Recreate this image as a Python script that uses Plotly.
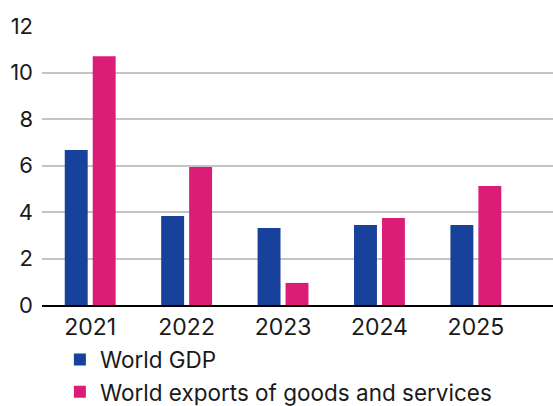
import plotly.graph_objects as go

years = ["2021", "2022", "2023", "2024", "2025"]
gdp = [6.67, 3.83, 3.31, 3.44, 3.44]
exports = [10.7, 5.94, 0.95, 3.74, 5.12]
y_ticks = [0, 2, 4, 6, 8, 10, 12]

FONT = "Inter"

fig = go.Figure()
fig.add_trace(go.Bar(x=years, y=gdp, name="World GDP",
                     marker_color="#17419A", marker_line_width=0))
fig.add_trace(go.Bar(x=years, y=exports, name="World exports of goods and services",
                     marker_color="#DC1D78", marker_line_width=0))

fig.update_layout(
    width=553, height=406,
    margin=dict(l=42, r=0, t=26, b=101, autoexpand=False),
    paper_bgcolor="white", plot_bgcolor="white",
    barmode="group", bargap=0.42, bargroupgap=0.18,
    font=dict(family=FONT, size=22, color="#1a1a1a"),
    showlegend=True,
    legend=dict(orientation="v", x=0.035, xanchor="left", y=-0.12, yanchor="top",
                font=dict(size=22.5), itemwidth=30, tracegroupgap=0,
                borderwidth=0, bgcolor="rgba(0,0,0,0)"),
    xaxis=dict(type="category", range=[-0.5, 4.8], showgrid=False,
               showline=True, linecolor="black", linewidth=2,
               ticks="", tickfont=dict(size=23)),
    yaxis=dict(range=[0, 12], tickvals=y_ticks, showgrid=True,
               gridcolor="#c4c4c4", gridwidth=1.5, zeroline=False,
               showline=False, ticks="", ticklabelstandoff=8,
               tickfont=dict(size=22)),
)

fig.write_html("out.html")
